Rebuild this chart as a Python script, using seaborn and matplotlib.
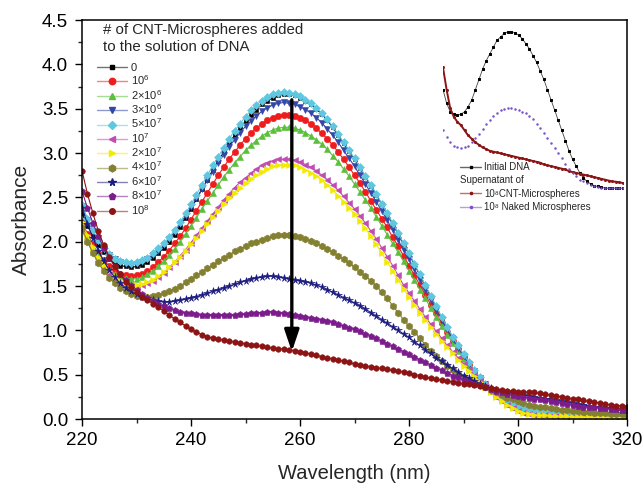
import matplotlib
matplotlib.use("Agg")
import matplotlib.pyplot as plt
import matplotlib.colors as mcolors
import seaborn as sns
from matplotlib.lines import Line2D
from matplotlib.ticker import MultipleLocator, FormatStrFormatter

# ---------------- data ----------------
wavelength = list(range(220, 321))

abs_0 = [2.32, 2.18, 2.06, 1.96, 1.88, 1.81, 1.76, 1.73, 1.72, 1.71,
         1.72, 1.74, 1.77, 1.82, 1.87, 1.93, 2.00, 2.08, 2.17, 2.27,
         2.37, 2.48, 2.59, 2.70, 2.81, 2.91, 3.01, 3.11, 3.20, 3.28,
         3.36, 3.43, 3.49, 3.55, 3.59, 3.62, 3.65, 3.66, 3.66, 3.65,
         3.62, 3.59, 3.55, 3.50, 3.44, 3.37, 3.29, 3.20, 3.11, 3.02,
         2.93, 2.83, 2.73, 2.63, 2.53, 2.42, 2.31, 2.20, 2.09, 1.97,
         1.86, 1.74, 1.62, 1.50, 1.38, 1.26, 1.14, 1.03, 0.92, 0.82,
         0.72, 0.63, 0.54, 0.46, 0.39, 0.33, 0.27, 0.22, 0.18, 0.15,
         0.13, 0.11, 0.10, 0.09, 0.08, 0.08, 0.07, 0.07, 0.07, 0.06,
         0.06, 0.06, 0.06, 0.05, 0.05, 0.05, 0.05, 0.05, 0.04, 0.04,
         0.04]

abs_1e6 = [2.22, 2.09, 1.97, 1.87, 1.79, 1.72, 1.67, 1.64, 1.62, 1.61,
           1.62, 1.64, 1.67, 1.71, 1.77, 1.83, 1.90, 1.98, 2.06, 2.15,
           2.25, 2.35, 2.45, 2.55, 2.65, 2.75, 2.84, 2.93, 3.01, 3.09,
           3.16, 3.22, 3.28, 3.33, 3.37, 3.40, 3.42, 3.43, 3.43, 3.42,
           3.40, 3.37, 3.33, 3.28, 3.22, 3.16, 3.09, 3.01, 2.93, 2.84,
           2.75, 2.66, 2.56, 2.46, 2.36, 2.26, 2.16, 2.05, 1.95, 1.84,
           1.73, 1.62, 1.51, 1.40, 1.29, 1.19, 1.08, 0.98, 0.88, 0.79,
           0.70, 0.61, 0.53, 0.46, 0.39, 0.33, 0.27, 0.22, 0.18, 0.15,
           0.13, 0.11, 0.10, 0.09, 0.08, 0.07, 0.07, 0.06, 0.06, 0.06,
           0.05, 0.05, 0.05, 0.05, 0.04, 0.04, 0.04, 0.04, 0.04, 0.04,
           0.04]

abs_2e6 = [2.20, 2.06, 1.94, 1.84, 1.76, 1.69, 1.64, 1.61, 1.59, 1.58,
           1.58, 1.60, 1.63, 1.67, 1.72, 1.78, 1.85, 1.92, 2.00, 2.09,
           2.18, 2.27, 2.37, 2.46, 2.55, 2.64, 2.73, 2.81, 2.89, 2.96,
           3.03, 3.09, 3.14, 3.19, 3.23, 3.26, 3.28, 3.29, 3.29, 3.28,
           3.26, 3.23, 3.19, 3.15, 3.10, 3.04, 2.97, 2.90, 2.82, 2.74,
           2.65, 2.56, 2.47, 2.38, 2.28, 2.18, 2.08, 1.98, 1.88, 1.78,
           1.67, 1.57, 1.46, 1.36, 1.25, 1.15, 1.05, 0.95, 0.86, 0.77,
           0.68, 0.60, 0.52, 0.45, 0.38, 0.32, 0.26, 0.21, 0.17, 0.14,
           0.12, 0.10, 0.09, 0.08, 0.07, 0.06, 0.06, 0.05, 0.05, 0.05,
           0.04, 0.04, 0.04, 0.04, 0.04, 0.03, 0.03, 0.03, 0.03, 0.03,
           0.03]

abs_3e6 = [2.40, 2.25, 2.12, 2.01, 1.92, 1.85, 1.80, 1.77, 1.75, 1.74,
           1.75, 1.77, 1.80, 1.85, 1.90, 1.96, 2.03, 2.11, 2.20, 2.29,
           2.39, 2.49, 2.59, 2.69, 2.79, 2.89, 2.98, 3.07, 3.15, 3.23,
           3.30, 3.36, 3.42, 3.47, 3.51, 3.54, 3.56, 3.57, 3.56, 3.55,
           3.52, 3.49, 3.45, 3.40, 3.34, 3.27, 3.20, 3.12, 3.03, 2.94,
           2.85, 2.75, 2.65, 2.55, 2.45, 2.35, 2.24, 2.13, 2.02, 1.91,
           1.80, 1.69, 1.57, 1.46, 1.34, 1.23, 1.12, 1.01, 0.90, 0.80,
           0.71, 0.62, 0.54, 0.46, 0.39, 0.33, 0.27, 0.22, 0.18, 0.15,
           0.13, 0.11, 0.10, 0.09, 0.08, 0.08, 0.07, 0.07, 0.07, 0.06,
           0.06, 0.06, 0.06, 0.05, 0.05, 0.05, 0.05, 0.05, 0.05, 0.04,
           0.04]

abs_5e7 = [2.41, 2.26, 2.13, 2.02, 1.93, 1.86, 1.81, 1.78, 1.77, 1.76,
           1.77, 1.79, 1.82, 1.87, 1.93, 1.98, 2.05, 2.13, 2.22, 2.32,
           2.42, 2.53, 2.64, 2.75, 2.86, 2.96, 3.06, 3.16, 3.25, 3.33,
           3.41, 3.48, 3.54, 3.59, 3.63, 3.66, 3.68, 3.69, 3.68, 3.66,
           3.64, 3.60, 3.56, 3.51, 3.45, 3.38, 3.30, 3.21, 3.12, 3.03,
           2.94, 2.84, 2.74, 2.64, 2.54, 2.43, 2.32, 2.21, 2.10, 1.98,
           1.87, 1.75, 1.63, 1.51, 1.39, 1.27, 1.15, 1.04, 0.93, 0.83,
           0.73, 0.64, 0.55, 0.47, 0.40, 0.34, 0.28, 0.23, 0.19, 0.16,
           0.14, 0.12, 0.11, 0.10, 0.09, 0.09, 0.08, 0.08, 0.08, 0.07,
           0.07, 0.07, 0.07, 0.06, 0.06, 0.06, 0.06, 0.06, 0.05, 0.05,
           0.05]

abs_1e7 = [2.13, 2.00, 1.88, 1.78, 1.70, 1.63, 1.57, 1.53, 1.51, 1.50,
           1.50, 1.51, 1.53, 1.56, 1.60, 1.65, 1.71, 1.77, 1.84, 1.91,
           1.99, 2.07, 2.15, 2.23, 2.31, 2.39, 2.47, 2.54, 2.61, 2.67,
           2.72, 2.77, 2.82, 2.86, 2.89, 2.91, 2.93, 2.93, 2.93, 2.92,
           2.90, 2.87, 2.84, 2.80, 2.75, 2.70, 2.64, 2.58, 2.51, 2.44,
           2.37, 2.29, 2.21, 2.12, 2.03, 1.93, 1.83, 1.73, 1.62, 1.51,
           1.42, 1.33, 1.24, 1.15, 1.07, 0.99, 0.91, 0.83, 0.76, 0.69,
           0.62, 0.55, 0.49, 0.43, 0.37, 0.31, 0.25, 0.20, 0.16, 0.12,
           0.09, 0.07, 0.06, 0.05, 0.04, 0.04, 0.03, 0.03, 0.03, 0.02,
           0.02, 0.02, 0.02, 0.02, 0.02, 0.01, 0.01, 0.01, 0.01, 0.01,
           0.01]

abs_2e7 = [2.22, 2.07, 1.94, 1.83, 1.74, 1.67, 1.61, 1.56, 1.53, 1.51,
           1.51, 1.52, 1.54, 1.57, 1.61, 1.66, 1.71, 1.77, 1.83, 1.90,
           1.97, 2.04, 2.12, 2.20, 2.28, 2.35, 2.42, 2.49, 2.55, 2.61,
           2.66, 2.71, 2.75, 2.79, 2.82, 2.85, 2.86, 2.87, 2.87, 2.86,
           2.84, 2.81, 2.78, 2.74, 2.69, 2.64, 2.58, 2.52, 2.45, 2.38,
           2.31, 2.23, 2.15, 2.06, 1.97, 1.87, 1.77, 1.67, 1.57, 1.47,
           1.38, 1.29, 1.20, 1.12, 1.04, 0.96, 0.88, 0.81, 0.74, 0.67,
           0.60, 0.54, 0.48, 0.42, 0.36, 0.30, 0.25, 0.20, 0.16, 0.12,
           0.09, 0.07, 0.06, 0.05, 0.04, 0.04, 0.03, 0.03, 0.03, 0.03,
           0.02, 0.02, 0.02, 0.02, 0.02, 0.02, 0.02, 0.02, 0.02, 0.02,
           0.02]

abs_4e7 = [2.15, 2.00, 1.87, 1.76, 1.67, 1.59, 1.53, 1.48, 1.44, 1.41,
           1.39, 1.38, 1.38, 1.39, 1.40, 1.42, 1.44, 1.47, 1.50, 1.54,
           1.58, 1.62, 1.66, 1.70, 1.74, 1.78, 1.82, 1.85, 1.89, 1.92,
           1.95, 1.98, 2.00, 2.02, 2.04, 2.06, 2.07, 2.07, 2.07, 2.06,
           2.05, 2.03, 2.01, 1.98, 1.95, 1.92, 1.88, 1.84, 1.80, 1.76,
           1.71, 1.66, 1.61, 1.56, 1.50, 1.43, 1.36, 1.28, 1.20, 1.12,
           1.05, 0.98, 0.91, 0.84, 0.77, 0.71, 0.65, 0.60, 0.55, 0.51,
           0.47, 0.44, 0.41, 0.38, 0.36, 0.33, 0.30, 0.27, 0.24, 0.22,
           0.20, 0.18, 0.16, 0.15, 0.14, 0.13, 0.12, 0.11, 0.10, 0.10,
           0.09, 0.09, 0.08, 0.08, 0.07, 0.07, 0.07, 0.06, 0.06, 0.06,
           0.05]

abs_6e7 = [2.38, 2.20, 2.04, 1.90, 1.78, 1.68, 1.60, 1.53, 1.48, 1.44,
           1.41, 1.38, 1.36, 1.34, 1.33, 1.32, 1.32, 1.33, 1.34, 1.35,
           1.37, 1.38, 1.40, 1.42, 1.44, 1.46, 1.48, 1.50, 1.52, 1.54,
           1.56, 1.58, 1.59, 1.60, 1.61, 1.61, 1.60, 1.59, 1.58, 1.57,
           1.56, 1.55, 1.53, 1.51, 1.49, 1.46, 1.43, 1.40, 1.37, 1.34,
           1.31, 1.28, 1.24, 1.20, 1.16, 1.12, 1.08, 1.04, 1.00, 0.96,
           0.92, 0.87, 0.83, 0.78, 0.74, 0.69, 0.65, 0.61, 0.57, 0.53,
           0.49, 0.46, 0.43, 0.40, 0.37, 0.35, 0.33, 0.31, 0.30, 0.29,
           0.28, 0.27, 0.26, 0.25, 0.24, 0.23, 0.22, 0.21, 0.20, 0.19,
           0.18, 0.17, 0.16, 0.15, 0.14, 0.13, 0.12, 0.12, 0.11, 0.10,
           0.10]

abs_8e7 = [2.57, 2.38, 2.21, 2.06, 1.93, 1.82, 1.72, 1.64, 1.57, 1.51,
           1.46, 1.41, 1.37, 1.33, 1.30, 1.27, 1.25, 1.23, 1.21, 1.20,
           1.19, 1.18, 1.17, 1.17, 1.17, 1.17, 1.17, 1.17, 1.17, 1.18,
           1.18, 1.19, 1.20, 1.20, 1.21, 1.21, 1.20, 1.19, 1.18, 1.17,
           1.16, 1.15, 1.14, 1.13, 1.12, 1.10, 1.09, 1.07, 1.05, 1.03,
           1.01, 0.99, 0.96, 0.94, 0.91, 0.88, 0.85, 0.82, 0.79, 0.76,
           0.73, 0.70, 0.67, 0.64, 0.61, 0.58, 0.55, 0.52, 0.49, 0.47,
           0.44, 0.42, 0.40, 0.38, 0.36, 0.34, 0.32, 0.30, 0.28, 0.27,
           0.26, 0.25, 0.24, 0.23, 0.22, 0.21, 0.20, 0.19, 0.18, 0.17,
           0.16, 0.15, 0.14, 0.14, 0.13, 0.12, 0.12, 0.11, 0.11, 0.10,
           0.10]

abs_1e8 = [2.80, 2.54, 2.32, 2.12, 1.96, 1.83, 1.72, 1.63, 1.55, 1.49,
           1.43, 1.38, 1.34, 1.30, 1.26, 1.22, 1.17, 1.13, 1.09, 1.05,
           1.01, 0.98, 0.95, 0.93, 0.91, 0.90, 0.89, 0.88, 0.87, 0.86,
           0.85, 0.84, 0.83, 0.82, 0.81, 0.80, 0.79, 0.79, 0.78, 0.77,
           0.76, 0.75, 0.73, 0.72, 0.70, 0.69, 0.68, 0.67, 0.65, 0.64,
           0.62, 0.61, 0.60, 0.59, 0.58, 0.57, 0.56, 0.55, 0.54, 0.53,
           0.52, 0.50, 0.49, 0.47, 0.46, 0.45, 0.44, 0.43, 0.42, 0.41,
           0.40, 0.39, 0.38, 0.37, 0.36, 0.35, 0.34, 0.33, 0.32, 0.32,
           0.31, 0.31, 0.30, 0.30, 0.29, 0.28, 0.27, 0.26, 0.25, 0.24,
           0.23, 0.22, 0.21, 0.20, 0.19, 0.18, 0.17, 0.16, 0.15, 0.15,
           0.14]

series_labels = ["0", "10$^{6}$", "2×10$^{6}$", "3×10$^{6}$", "5×10$^{7}$",
                 "10$^{7}$", "2×10$^{7}$", "4×10$^{7}$", "6×10$^{7}$",
                 "8×10$^{7}$", "10$^{8}$"]
series_values = [abs_0, abs_1e6, abs_2e6, abs_3e6, abs_5e7, abs_1e7,
                 abs_2e7, abs_4e7, abs_6e7, abs_8e7, abs_1e8]

# inset (relative absorbance, 2 nm step)
inset_wavelength = list(range(220, 321, 2))
inset_dna = [0.62, 0.54, 0.49, 0.475, 0.47, 0.475, 0.49, 0.52, 0.56, 0.62,
             0.68, 0.74, 0.79, 0.83, 0.87, 0.91, 0.93, 0.95, 0.96, 0.96,
             0.955, 0.94, 0.92, 0.89, 0.86, 0.82, 0.78, 0.73, 0.68, 0.62,
             0.56, 0.50, 0.44, 0.38, 0.32, 0.26, 0.21, 0.17, 0.13, 0.10,
             0.08, 0.065, 0.055, 0.05, 0.045, 0.04, 0.04, 0.04, 0.04, 0.04,
             0.04]
inset_cnt = [0.75, 0.62, 0.51, 0.46, 0.43, 0.41, 0.38, 0.35, 0.33, 0.31,
             0.295, 0.28, 0.27, 0.26, 0.255, 0.25, 0.245, 0.24, 0.235, 0.23,
             0.225, 0.22, 0.215, 0.21, 0.205, 0.20, 0.195, 0.19, 0.18, 0.175,
             0.17, 0.165, 0.16, 0.155, 0.15, 0.14, 0.135, 0.13, 0.125, 0.12,
             0.115, 0.11, 0.105, 0.10, 0.095, 0.09, 0.085, 0.08, 0.078, 0.075,
             0.07]
inset_naked = [0.38, 0.34, 0.31, 0.29, 0.28, 0.278, 0.28, 0.29, 0.31, 0.335,
               0.36, 0.39, 0.42, 0.44, 0.465, 0.485, 0.50, 0.505, 0.51, 0.51,
               0.508, 0.50, 0.49, 0.48, 0.465, 0.445, 0.42, 0.395, 0.365, 0.335,
               0.305, 0.275, 0.245, 0.215, 0.185, 0.155, 0.13, 0.11, 0.09, 0.08,
               0.07, 0.06, 0.05, 0.045, 0.04, 0.04, 0.04, 0.04, 0.04, 0.04,
               0.04]
inset_labels = ["Initial DNA", "", "10⁸CNT-Microspheres",
                "10⁸ Naked Microspheres"]

# ---------------- style ----------------
colors = ["#000000", "#ee1c1c", "#5cbf3c", "#3446a8", "#5fc8e0", "#c04cb4",
          "#f2ea00", "#848032", "#1c1c80", "#7c1c8c", "#8c1414"]
markers = ["s", "o", "^", "v", "D", "<", ">", "h", "*", "p", "o"]
msizes = [3.2, 4.6, 5.0, 5.0, 4.4, 5.0, 5.0, 5.0, 5.6, 5.0, 4.0]

sns.set_theme(style="ticks")
plt.rcParams["font.family"] = ["Liberation Sans", "DejaVu Sans"]
plt.rcParams["mathtext.fontset"] = "custom"
plt.rcParams["mathtext.rm"] = "Liberation Sans"
plt.rcParams["mathtext.it"] = "Liberation Sans:italic"
plt.rcParams["mathtext.bf"] = "Liberation Sans:bold"

W, H = 643, 486
fig = plt.figure(figsize=(W / 100, H / 100), dpi=100)
ax = fig.add_axes([82 / W, 1 - 419 / H, 545 / W, 399 / H])


def lighten(c, f=0.5):
    r, g, b = mcolors.to_rgb(c)
    return (r + (1 - r) * f, g + (1 - g) * f, b + (1 - b) * f)


handles = []
for lab, vals, c, m, ms in zip(series_labels, series_values, colors, markers, msizes):
    sns.lineplot(x=wavelength, y=vals, ax=ax, color=c, marker=m, markersize=ms,
                 markeredgecolor=c, markeredgewidth=0.4, linewidth=0.8,
                 errorbar=None, legend=False)
    handles.append(Line2D([], [], color=lighten(c, 0.45), lw=1.0, marker=m,
                          markersize=ms, markerfacecolor=c, markeredgecolor=c))

ax.set_xlim(220, 320)
ax.set_ylim(0, 4.5)
ax.xaxis.set_major_locator(MultipleLocator(20))
ax.xaxis.set_minor_locator(MultipleLocator(10))
ax.yaxis.set_major_locator(MultipleLocator(0.5))
ax.yaxis.set_minor_locator(MultipleLocator(0.25))
ax.yaxis.set_major_formatter(FormatStrFormatter("%.1f"))
ax.tick_params(which="major", direction="out", length=5, width=1,
               labelsize=13.5, colors="black", top=False, right=False, pad=4)
ax.tick_params(axis="y", which="major", pad=5)
ax.tick_params(which="minor", direction="out", length=3, width=1,
               top=False, right=False)
for s in ax.spines.values():
    s.set_color("black")
    s.set_linewidth(1.1)
ax.set_xlabel("Wavelength (nm)", fontsize=14.5, labelpad=11)
ax.set_ylabel("Absorbance", fontsize=15, labelpad=8)

# arrow
arrow_x, arrow_y0, arrow_y1 = 258.5, 3.60, 0.76
ax.annotate("", xy=(arrow_x, arrow_y1), xytext=(arrow_x, arrow_y0),
            arrowprops=dict(arrowstyle="-|>,head_length=0.65,head_width=0.22",
                            lw=2.4, color="black", mutation_scale=20,
                            shrinkA=0, shrinkB=0))

# main legend
fig.text(103 / W, 1 - 23 / H, "# of CNT-Microspheres added\nto the solution of DNA",
         fontsize=10.8, ha="left", va="top", linespacing=1.25)
ax.legend(handles, series_labels, loc="upper left",
          bbox_to_anchor=(97 / W, 1 - 63 / H), bbox_transform=fig.transFigure,
          frameon=False, fontsize=8, handlelength=2.7, handletextpad=0.35,
          labelspacing=0.05, borderpad=0, borderaxespad=0)

# inset
axi = fig.add_axes([443 / W, 1 - 195 / H, 180 / W, 170 / H])
axi.set_xlim(220, 320)
axi.set_ylim(0, 1.0)
axi.axis("off")
axi.patch.set_alpha(0)
sns.lineplot(x=inset_wavelength, y=inset_dna, ax=axi, color="#444444",
             linewidth=0.6, marker="s", markersize=1.6, markerfacecolor="black",
             markeredgecolor="black", errorbar=None, legend=False)
sns.lineplot(x=inset_wavelength, y=inset_cnt, ax=axi, color="#8c1414",
             linewidth=1.4, marker="o", markersize=1.4, markeredgecolor="#8c1414",
             markerfacecolor="#8c1414", errorbar=None, legend=False)
sns.lineplot(x=inset_wavelength, y=inset_naked, ax=axi, color="#7a52cc",
             linewidth=0, marker="o", markersize=1.8, markeredgewidth=0,
             markerfacecolor="#7a52cc", errorbar=None, legend=False)
ih = [Line2D([], [], color="#666666", lw=1.0, marker="s", markersize=1.8,
             markerfacecolor="black", markeredgecolor="black"),
      Line2D([], [], lw=0, marker=None),
      Line2D([], [], color="#c07070", lw=1.0, marker="o", markersize=1.6,
             markerfacecolor="#8c1414", markeredgecolor="#8c1414"),
      Line2D([], [], color="#b0a0e0", lw=1.0, marker="o", markersize=1.6,
             markerfacecolor="#7a52cc", markeredgecolor="#7a52cc")]
axi.legend(ih, inset_labels, loc="upper left",
           bbox_to_anchor=(460 / W, 1 - 162 / H), bbox_transform=fig.transFigure,
           frameon=False, fontsize=7, handlelength=2.2, handletextpad=0.3,
           labelspacing=0.34, borderpad=0, borderaxespad=0)
fig.text(460 / W, 1 - 180 / H, "Supernatant of", fontsize=7, ha="left", va="center")

fig.savefig("out.png", dpi=100)
